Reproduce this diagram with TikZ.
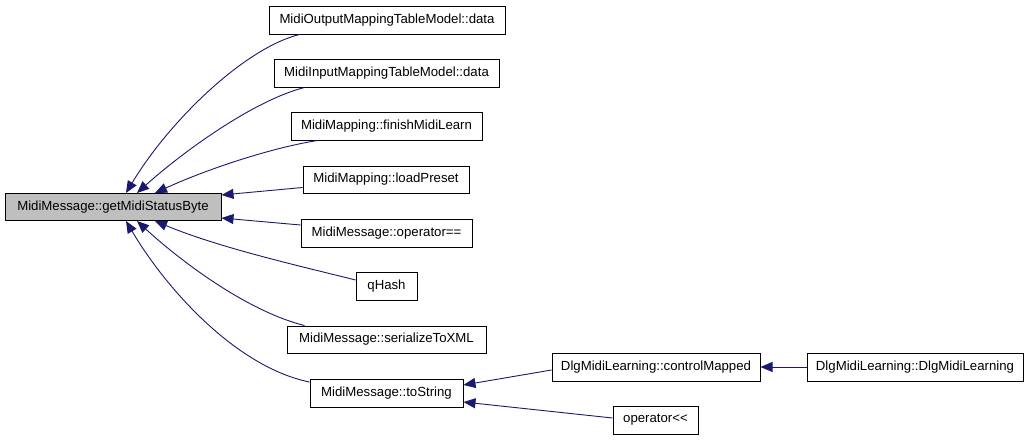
\documentclass[tikz,border=0pt]{standalone}
\usepackage{fontspec}
\setmainfont{Liberation Sans}
\usetikzlibrary{arrows.meta,calc}
\definecolor{edgeblue}{HTML}{191970}
\definecolor{mainfill}{HTML}{BFBFBF}
\begin{document}
\begin{tikzpicture}[x=1pt,y=-1pt,
  box/.style={draw=black,line width=1pt,fill=white,inner sep=0pt,font=\fontsize{13.2}{15}\selectfont,text=black},
  edge/.style={draw=edgeblue,line width=0.9pt,-{Triangle[length=12pt,width=10pt]}}]
\fill[white] (0,0) rectangle (1029,440);
\useasboundingbox (0,0) rectangle (1029,440);
\node[box,fill=mainfill,minimum width=216,minimum height=27] (main) at (113,207) {MidiMessage::getMidiStatusByte};
\node[box,minimum width=236,minimum height=28] (n1) at (387,20) {MidiOutputMappingTableModel::data};
\node[box,minimum width=225,minimum height=28] (n2) at (386.5,73) {MidiInputMappingTableModel::data};
\node[box,minimum width=191,minimum height=28] (n3) at (386.5,126) {MidiMapping::finishMidiLearn};
\node[box,minimum width=166,minimum height=27] (n4) at (386,179.5) {MidiMapping::loadPreset};
\node[box,minimum width=171,minimum height=28] (n5) at (386.5,233) {MidiMessage::operator==};
\node[box,minimum width=61,minimum height=28] (n6) at (386.5,286) {qHash};
\node[box,minimum width=199,minimum height=27] (n7) at (386.5,339.5) {MidiMessage::serializeToXML};
\node[box,minimum width=153,minimum height=28] (n8) at (386.5,393) {MidiMessage::toString};
\node[box,minimum width=208,minimum height=28] (n9) at (656,367) {DlgMidiLearning::controlMapped};
\node[box,minimum width=216,minimum height=28] (n10) at (915,367) {DlgMidiLearning::DlgMidiLearning};
\node[box,minimum width=85,minimum height=28] (n11) at (655.5,420) {operator<{}<};
\draw[edge] ($(n1.south west)+(31,0)$) .. controls (245,48) and (170,120) .. ($(main.north)+(13,0)$);
\draw[edge] ($(n2.south west)+(31,0)$) .. controls (255,100) and (185,150) .. ($(main.north)+(24,0)$);
\draw[edge] ($(n3.south west)+(27,0)$) .. controls (270,148) and (205,170) .. ($(main.north)+(42,0)$);
\draw[edge] ($(n4.west)+(0,8)$) -- ($(main.east)+(0,-12)$);
\draw[edge] ($(n5.west)+(0,-8)$) -- ($(main.east)+(0,11)$);
\draw[edge] ($(n6.west)+(0,-6)$) .. controls (300,266) and (220,248) .. ($(main.south)+(42,0)$);
\draw[edge] ($(n7.north west)+(18,0)$) .. controls (250,312) and (185,265) .. ($(main.south)+(24,0)$);
\draw[edge] ($(n8.west)+(0,-11)$) .. controls (240,368) and (170,295) .. ($(main.south)+(13,0)$);
\draw[edge] ($(n9.west)+(0,3)$) -- ($(n8.east)+(0,-8)$);
\draw[edge] ($(n11.west)+(0,-2)$) -- ($(n8.east)+(0,9)$);
\draw[edge] (n10.west) -- (n9.east);
\end{tikzpicture}
\end{document}
